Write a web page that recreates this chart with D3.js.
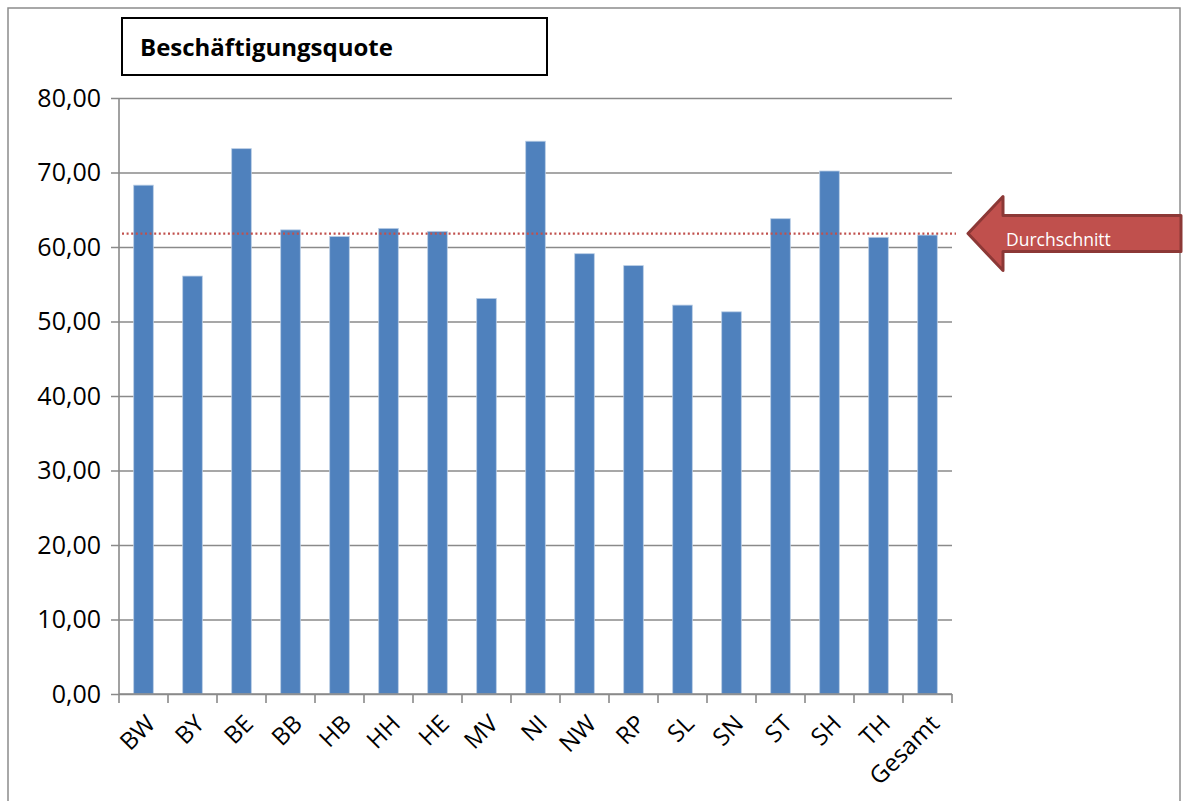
<!DOCTYPE html>
<html>
<head>
<meta charset="utf-8">
<script src="https://cdn.jsdelivr.net/npm/d3@7"></script>
<style>
  html, body { margin: 0; padding: 0; background: #fff; }
  svg { display: block; }
  text { font-family: "Open Sans", "Liberation Sans", sans-serif; }
</style>
</head>
<body>
<svg id="chart" width="1186" height="801"></svg>
<script>
// Beschäftigungsquote nach Bundesland
const categories = ["BW", "BY", "BE", "BB", "HB", "HH", "HE", "MV", "NI", "NW", "RP", "SL", "SN", "ST", "SH", "TH", "Gesamt"];
const values = [68.3, 56.1, 73.2, 62.3, 61.4, 62.5, 62.1, 53.1, 74.2, 59.1, 57.5, 52.2, 51.3, 63.8, 70.2, 61.3, 61.6];
const average = 61.8;
const yTicks = [0, 10, 20, 30, 40, 50, 60, 70, 80];
const titleText = "Beschäftigungsquote";
const averageLabel = "Durchschnitt";

const svg = d3.select("#chart");
const margin = { left: 119, right: 1186 - 952, top: 98, bottom: 801 - 694 };
const plotW = 1186 - margin.left - margin.right;
const plotH = 801 - margin.top - margin.bottom;

const fmt = v => d3.format(".2f")(v).replace(".", ",");

// outer frame
svg.append("rect")
  .attr("x", 8).attr("y", 8).attr("width", 1172).attr("height", 800)
  .attr("fill", "none").attr("stroke", "#8c8c8c").attr("stroke-width", 1.5);

const g = svg.append("g").attr("transform", `translate(${margin.left},${margin.top})`);

const x = d3.scaleBand().domain(categories).range([0, plotW]).paddingInner(0.6).paddingOuter(0.3);
const y = d3.scaleLinear().domain([0, 80]).range([plotH, 0]);

// horizontal gridlines with left tick stubs
const yAxis = d3.axisLeft(y).tickValues(yTicks).tickFormat(fmt).tickSize(-plotW).tickPadding(18);
const yG = g.append("g").call(yAxis);
yG.select(".domain").remove();
yG.selectAll(".tick line")
  .attr("x1", -8)
  .attr("stroke", "#8a8a8a").attr("stroke-width", 1.6);
yG.selectAll(".tick text")
  .attr("font-size", 25).attr("fill", "#000");

// bars
g.selectAll("rect.bar").data(values).join("rect")
  .attr("class", "bar")
  .attr("x", (d, i) => x(categories[i]))
  .attr("width", x.bandwidth())
  .attr("y", d => y(d))
  .attr("height", d => plotH - y(d))
  .attr("fill", "#4F81BD")
  .attr("stroke", "#B9CDE5").attr("stroke-width", 0.8);

// x axis with category tick marks between bands
const xTicks = d3.range(categories.length + 1).map(i => i * plotW / categories.length);
g.append("g").selectAll("line").data(xTicks).join("line")
  .attr("x1", d => d).attr("x2", d => d)
  .attr("y1", plotH).attr("y2", plotH + 9)
  .attr("stroke", "#8a8a8a").attr("stroke-width", 1.6);
g.append("line")
  .attr("x1", 0).attr("x2", plotW).attr("y1", plotH).attr("y2", plotH)
  .attr("stroke", "#8a8a8a").attr("stroke-width", 1.6);
// y axis line
g.append("line")
  .attr("x1", 0).attr("x2", 0).attr("y1", 0).attr("y2", plotH)
  .attr("stroke", "#8a8a8a").attr("stroke-width", 1.6);

// rotated category labels
g.append("g").selectAll("text").data(categories).join("text")
  .attr("transform", d => `translate(${x(d) + x.bandwidth() / 2 + 1},${plotH + 19}) rotate(-45)`)
  .attr("text-anchor", "end")
  .attr("dy", "0.72em")
  .attr("font-size", 24)
  .attr("fill", "#000")
  .text(d => d);

// average reference line
g.append("line")
  .attr("x1", 3).attr("x2", plotW + 4)
  .attr("y1", y(average)).attr("y2", y(average))
  .attr("stroke", "#C0504D").attr("stroke-width", 2.2)
  .attr("stroke-dasharray", "2,2.6");

// title box
svg.append("rect")
  .attr("x", 122).attr("y", 18).attr("width", 425).attr("height", 57)
  .attr("fill", "#fff").attr("stroke", "#000").attr("stroke-width", 2);
svg.append("text")
  .attr("x", 140).attr("y", 56)
  .attr("font-size", 24).attr("font-weight", "bold").attr("fill", "#000")
  .text(titleText);

// arrow pointing at the average line
const ay = margin.top + y(average);
const arrow = svg.append("g");
const tipX = 968, headX = 1003, endX = 1181;
const headHalf = 37, shaftHalf = 18;
arrow.append("path")
  .attr("d", `M${tipX},${ay} L${headX},${ay - headHalf} L${headX},${ay - shaftHalf} L${endX},${ay - shaftHalf} L${endX},${ay + shaftHalf} L${headX},${ay + shaftHalf} L${headX},${ay + headHalf} Z`)
  .attr("fill", "#C0504D").attr("stroke", "#8C3836").attr("stroke-width", 3)
  .attr("stroke-linejoin", "round");
arrow.append("text")
  .attr("x", 1006).attr("y", ay + 12)
  .attr("font-size", 17.5).attr("fill", "#fff")
  .text(averageLabel);
</script>
</body>
</html>
